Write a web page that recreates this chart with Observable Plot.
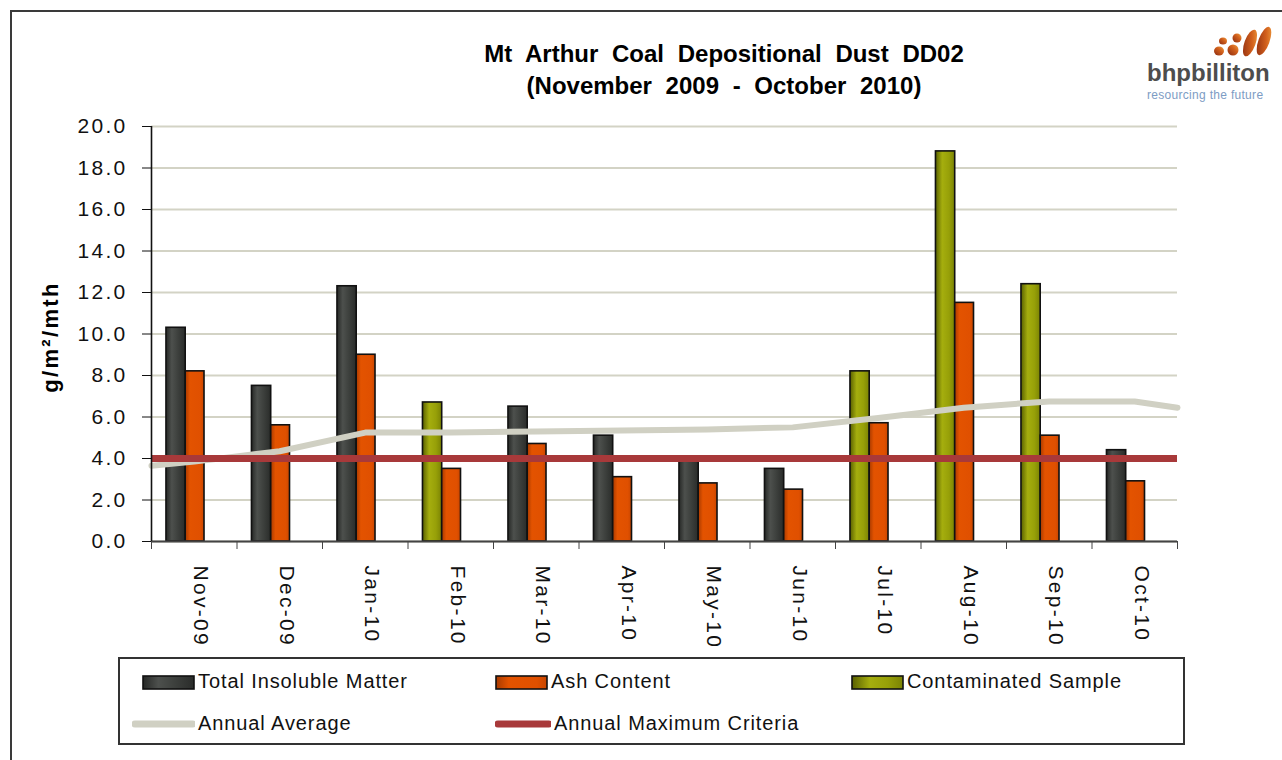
<!DOCTYPE html>
<html><head><meta charset="utf-8">
<script src="https://cdn.jsdelivr.net/npm/d3@7"></script>
<script src="https://cdn.jsdelivr.net/npm/@observablehq/plot@0.6"></script>
<style>
body{margin:0;background:#fff;font-family:"Liberation Sans",Arial,sans-serif;}
#wrap{position:relative;width:1282px;height:760px;overflow:hidden;background:#fff;}
#frame{position:absolute;left:10px;top:10px;width:1320px;height:820px;border:2px solid #3a3a3a;box-sizing:border-box;}
#title{position:absolute;left:374px;width:700px;top:38px;text-align:center;font-weight:bold;font-size:24px;line-height:32px;word-spacing:7px;color:#000;}
#chart{position:absolute;left:0;top:0;}
#chart svg text{letter-spacing:2.3px;}
#chart svg text.ylab{letter-spacing:0;}
#legend{position:absolute;left:118px;top:657px;width:1067px;height:88px;border:2px solid #333;box-sizing:border-box;}
.li{position:absolute;display:flex;align-items:center;font-size:20px;letter-spacing:0.9px;color:#111;white-space:nowrap;}
.li svg{margin-right:3px;}
#logo{position:absolute;left:1140px;top:22px;width:140px;height:85px;}
#logo .name{position:absolute;left:7px;top:37px;font-size:24px;font-weight:bold;color:#4d4d4d;letter-spacing:0px;}
#logo .tag{position:absolute;left:7px;top:66px;font-size:12px;color:#7d9cc4;letter-spacing:0.3px;}
</style></head>
<body>
<div id="wrap">
  <div id="frame"></div>
  <div id="title">Mt Arthur Coal Depositional Dust DD02<br>(November 2009 - October 2010)</div>
  <div id="chart"></div>
  <div id="logo">
    <svg width="140" height="40" style="position:absolute;left:0;top:0">
      <defs><linearGradient id="lg" x1="0" y1="1" x2="1" y2="0"><stop offset="0" stop-color="#8a2a10"/><stop offset="0.6" stop-color="#d2601c"/><stop offset="1" stop-color="#f0a040"/></linearGradient></defs>
      <ellipse cx="79" cy="29" rx="5" ry="4.5" fill="url(#lg)"/>
      <ellipse cx="83" cy="19" rx="4" ry="3.6" fill="url(#lg)"/>
      <ellipse cx="93" cy="28" rx="5.5" ry="5.5" fill="url(#lg)"/>
      <ellipse cx="97" cy="16" rx="4.5" ry="4.5" fill="url(#lg)"/>
      <ellipse cx="110" cy="21" rx="5.5" ry="14" transform="rotate(20 110 21)" fill="url(#lg)"/>
      <ellipse cx="124" cy="19" rx="5.5" ry="15" transform="rotate(20 124 19)" fill="url(#lg)"/>
    </svg>
    <div class="name">bhpbilliton</div>
    <div class="tag">resourcing the future</div>
  </div>
  <div id="legend"></div>
</div>
<script>
// ---- data ----
const months = ["Nov-09","Dec-09","Jan-10","Feb-10","Mar-10","Apr-10","May-10","Jun-10","Jul-10","Aug-10","Sep-10","Oct-10"];
const totalInsoluble = [10.3, 7.5, 12.3, null, 6.5, 5.1, 3.9, 3.5, null, null, null, 4.4];
const contaminated   = [null, null, null, 6.7, null, null, null, null, 8.2, 18.8, 12.4, null];
const ashContent     = [8.2, 5.6, 9.0, 3.5, 4.7, 3.1, 2.8, 2.5, 5.7, 11.5, 5.1, 2.9];
const annualAverage  = [3.85, 4.35, 5.25, 5.25, 5.3, 5.35, 5.4, 5.5, 5.95, 6.45, 6.75, 6.75];
const averageEnds    = [3.65, 6.45]; // value of the average line at the left and right axis ends
const annualMaxCriteria = 4.0;
const yTicks = [0, 2, 4, 6, 8, 10, 12, 14, 16, 18, 20];
const yLabel = "g/m\u00B2/mth";
const legendItems = [
  {label: "Total Insoluble Matter", type: "bar", fill: "url(#gTim)"},
  {label: "Ash Content", type: "bar", fill: "url(#gAsh)"},
  {label: "Contaminated Sample", type: "bar", fill: "url(#gCon)"},
  {label: "Annual Average", type: "line", stroke: "#d0d0c3"},
  {label: "Annual Maximum Criteria", type: "line", stroke: "#a8393a"}
];

// ---- tables built from the arrays ----
const timBars = months.map((m, i) => ({i, m, v: totalInsoluble[i]})).filter(d => d.v != null);
const conBars = months.map((m, i) => ({i, m, v: contaminated[i]})).filter(d => d.v != null);
const ashBars = months.map((m, i) => ({i, m, v: ashContent[i]}));
const avgLine = [{x: 0, v: averageEnds[0]}, ...annualAverage.map((v, i) => ({x: i + 0.5, v})), {x: months.length, v: averageEnds[1]}];

const chart = Plot.plot({
  width: 1282, height: 760,
  marginTop: 126, marginBottom: 219, marginLeft: 151, marginRight: 105,
  x: {domain: [0, months.length], axis: null},
  y: {domain: [0, 20], axis: null},
  style: {fontFamily: "'Liberation Sans', Arial, sans-serif", fontSize: "20px", color: "#111", background: "transparent", overflow: "visible"},
  marks: [
    Plot.gridY(yTicks, {stroke: "#d3d3c5", strokeOpacity: 1, strokeWidth: 2}),
    Plot.rect(timBars, {x1: d => d.i + 0.175, x2: d => d.i + 0.40, y1: () => 0, y2: "v", fill: "url(#gTim)", stroke: "#111", strokeWidth: 1.6}),
    Plot.rect(conBars, {x1: d => d.i + 0.175, x2: d => d.i + 0.40, y1: () => 0, y2: "v", fill: "url(#gCon)", stroke: "#111", strokeWidth: 1.6}),
    Plot.rect(ashBars, {x1: d => d.i + 0.40, x2: d => d.i + 0.62, y1: () => 0, y2: "v", fill: "url(#gAsh)", stroke: "#111", strokeWidth: 1.6}),
    Plot.line(avgLine, {x: "x", y: "v", stroke: "#d0d0c3", strokeWidth: 6}),
    Plot.ruleY([annualMaxCriteria], {stroke: "#a8393a", strokeWidth: 7}),
    Plot.ruleY([0], {stroke: "#444", strokeWidth: 2}),
    Plot.ruleX([0], {stroke: "#111", strokeWidth: 1.6}),
    Plot.axisY(yTicks, {tickFormat: d3.format(".1f"), tickSize: 9, tickPadding: 15, fontSize: 21, stroke: "#111", label: null}),
    Plot.axisX(d3.range(months.length + 1), {tickFormat: () => "", tickSize: 8, stroke: "#444", label: null}),
    Plot.text(months, {x: (d, i) => i + 0.5, frameAnchor: "bottom", dy: 24, rotate: 90, textAnchor: "start", fontSize: 21, fill: "#111"}),
    Plot.text([yLabel], {frameAnchor: "left", dx: -101, dy: 3, rotate: -90, textAnchor: "middle", fontWeight: "bold", fontSize: 22, fill: "#000", className: "ylab"})
  ]
});

const grads = {
  gTim: [[0, "#262826"], [0.3, "#4d504d"], [0.6, "#3e413e"], [1, "#2a2c2a"]],
  gAsh: [[0, "#a83a00"], [0.25, "#e35300"], [0.8, "#e05000"], [1, "#c84600"]],
  gCon: [[0, "#596000"], [0.35, "#a5ae0e"], [0.7, "#97a008"], [1, "#7b8304"]]
};
function addDefs(svgNode) {
  const defs = d3.select(svgNode).insert("defs", ":first-child");
  for (const [id, stops] of Object.entries(grads)) {
    const g = defs.append("linearGradient").attr("id", id).attr("x1", 0).attr("x2", 1).attr("y1", 0).attr("y2", 0);
    for (const [o, c] of stops) g.append("stop").attr("offset", o).attr("stop-color", c);
  }
}
addDefs(chart);
document.getElementById("chart").append(chart);

// ---- legend ----
const legendPos = [
  {left: 142, top: 670}, {left: 495, top: 670}, {left: 851, top: 670},
  {left: 132, top: 712}, {left: 495, top: 712}
];
const legend = document.getElementById("wrap");
legendItems.forEach((it, k) => {
  const div = document.createElement("div");
  div.className = "li";
  div.style.left = legendPos[k].left + "px";
  div.style.top = legendPos[k].top + "px";
  const w = it.type === "bar" ? 53 : (k === 3 ? 63 : 56);
  const sw = d3.create("svg").attr("width", w).attr("height", 20);
  if (it.type === "bar") {
    sw.append("rect").attr("x", 1).attr("y", 4).attr("width", w - 2).attr("height", 13).attr("fill", it.fill).attr("stroke", "#111").attr("stroke-width", 1.6);
  } else {
    sw.append("line").attr("x1", 3).attr("x2", w - 2).attr("y1", 10).attr("y2", 10).attr("stroke", it.stroke).attr("stroke-width", 7).attr("stroke-linecap", "round");
  }
  addDefs(sw.node());
  div.append(sw.node());
  const span = document.createElement("span");
  span.textContent = it.label;
  div.append(span);
  legend.append(div);
});
</script>
</body></html>
